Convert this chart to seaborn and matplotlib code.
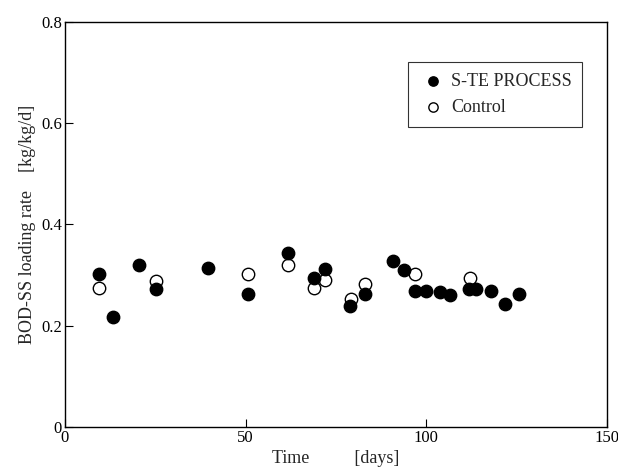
import numpy as np
import pandas as pd
import matplotlib
matplotlib.use("Agg")
import matplotlib.pyplot as plt
import seaborn as sns

# ===== DATA =====
ste_days = [9.5, 13.2, 20.6, 25.2, 39.7, 50.6, 61.7, 69.0, 71.9, 79.0, 83.0,
            90.7, 93.8, 96.8, 100.0, 103.8, 106.7, 111.8, 113.9, 117.8, 121.8, 125.7]
ste_rate = [0.303, 0.218, 0.320, 0.272, 0.314, 0.263, 0.344, 0.295, 0.312, 0.240, 0.262,
            0.328, 0.310, 0.269, 0.269, 0.266, 0.260, 0.273, 0.273, 0.268, 0.243, 0.263]

ctrl_days = [9.5, 25.2, 50.6, 61.7, 69.0, 71.9, 79.2, 83.0, 96.8, 112.0]
ctrl_rate = [0.274, 0.289, 0.303, 0.320, 0.275, 0.290, 0.252, 0.282, 0.303, 0.295]

x_ticks = [0, 50, 100, 150]
y_ticks = [0, 0.2, 0.4, 0.6, 0.8]
y_ticklabels = ["0", "0.2", "0.4", "0.6", "0.8"]

# ===== STYLE =====
sns.set_style("ticks")
plt.rcParams['font.family'] = ['Liberation Serif', 'DejaVu Serif']
plt.rcParams['xtick.direction'] = 'in'
plt.rcParams['ytick.direction'] = 'in'

fig = plt.figure(figsize=(6.18, 4.71), dpi=100)
ax = fig.add_axes([0.105, 0.093, 0.877, 0.861])

ste = pd.DataFrame({"day": ste_days, "rate": ste_rate})
ctrl = pd.DataFrame({"day": ctrl_days, "rate": ctrl_rate})

# control first so the filled markers sit on top, like the original
sns.scatterplot(data=ctrl, x="day", y="rate", ax=ax, s=80, facecolor="white",
                edgecolor="black", linewidth=1.0, label="Control", zorder=3)
sns.scatterplot(data=ste, x="day", y="rate", ax=ax, s=80, color="black",
                edgecolor="black", linewidth=1.0, label="S-TE PROCESS", zorder=4)

ax.set_xlim(0, 150)
ax.set_ylim(0, 0.8)
ax.set_xticks(x_ticks)
ax.set_yticks(y_ticks)
ax.set_yticklabels(y_ticklabels)
ax.tick_params(length=6, width=0.8, labelsize=12, colors="black", pad=2)

for sp in ax.spines.values():
    sp.set_visible(True)
    sp.set_color("black")
    sp.set_linewidth(1.0)

ax.set_xlabel("Time          [days]", fontsize=13, labelpad=3)
ax.set_ylabel("BOD-SS loading rate    [kg/kg/d]", fontsize=13, labelpad=4)

handles, labels = ax.get_legend_handles_labels()
order = [labels.index("S-TE PROCESS"), labels.index("Control")]
leg = ax.legend([handles[i] for i in order], [labels[i] for i in order],
                loc="upper right", bbox_to_anchor=(0.955, 0.9), borderaxespad=0,
                frameon=True, fancybox=False, edgecolor="black", fontsize=13,
                handletextpad=0.2, handlelength=1.6, borderpad=0.6,
                labelspacing=0.5, markerscale=0.75)
leg.get_frame().set_linewidth(0.8)

fig.savefig("out.png", dpi=100)
